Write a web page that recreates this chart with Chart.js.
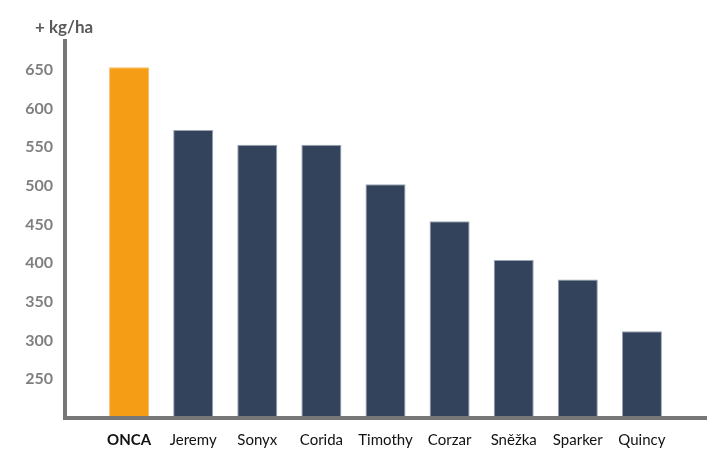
<!DOCTYPE html>
<html>
<head>
<meta charset="utf-8">
<script src="https://cdn.jsdelivr.net/npm/chart.js@4.4.1/dist/chart.umd.min.js"></script>
<style>
  html, body { margin: 0; padding: 0; background: #ffffff; }
  #wrap { width: 727px; height: 472px; }
</style>
</head>
<body>
<div id="wrap"><canvas id="yieldChart"></canvas></div>
<script>
// data
const categories = ["ONCA", "Jeremy", "Sonyx", "Corida", "Timothy", "Corzar", "Sněžka", "Sparker", "Quincy"];
const yieldGain = [653, 572, 553, 553, 502, 454, 404, 379, 312];
const yTicks = [250, 300, 350, 400, 450, 500, 550, 600, 650];
const unitLabel = "+ kg/ha";

const points = categories.map((c, i) => ({ x: i, y: yieldGain[i] }));
const barColors = categories.map((c, i) => i === 0 ? "#f59d15" : "#33435c");
const edgeColors = categories.map((c, i) => i === 0 ? "#f8bd62" : "#9aa4b3");

// unit label sits above the y axis, left of it
const unitTitle = {
  id: "unitTitle",
  afterDraw(chart) {
    const c = chart.ctx;
    c.save();
    c.font = "bold 17px Lato";
    c.fillStyle = "#595959";
    c.textBaseline = "middle";
    c.textAlign = "left";
    c.fillText(unitLabel, chart.chartArea.left - 30, 28);
    c.restore();
  }
};

const ctx = document.getElementById("yieldChart");

new Chart(ctx, {
  type: "bar",
  data: {
    datasets: [{
      data: points,
      backgroundColor: barColors,
      borderColor: edgeColors,
      borderWidth: 1,
      categoryPercentage: 1,
      barPercentage: 0.625
    }]
  },
  plugins: [unitTitle],
  options: {
    responsive: true,
    maintainAspectRatio: false,
    animation: false,
    layout: { padding: { left: 15, right: 21, top: 41, bottom: 10 } },
    plugins: {
      legend: { display: false },
      tooltip: { enabled: false },
      title: { display: false }
    },
    scales: {
      x: {
        type: "linear",
        min: -1,
        max: 9,
        offset: false,
        grid: { display: false, drawTicks: false },
        border: { display: true, color: "#777777", width: 4, z: 1 },
        ticks: {
          stepSize: 1,
          autoSkip: false,
          maxRotation: 0,
          padding: 13,
          color: "#111111",
          font: (c) => ({
            family: "Lato",
            size: 15,
            weight: c.tick && c.tick.value === 0 ? "bold" : "normal"
          }),
          callback: (v) => categories[v] !== undefined ? categories[v] : ""
        }
      },
      y: {
        min: 200,
        max: 687,
        grid: { display: false, drawTicks: false },
        border: { display: true, color: "#777777", width: 4, z: 1 },
        afterFit: (scale) => { scale.width = 50; },
        ticks: {
          stepSize: 50,
          padding: 12,
          color: "#7f7f7f",
          font: { family: "Lato", size: 16, weight: "bold" },
          callback: (v) => yTicks.includes(v) ? v : ""
        }
      }
    }
  }
});
</script>
</body>
</html>
